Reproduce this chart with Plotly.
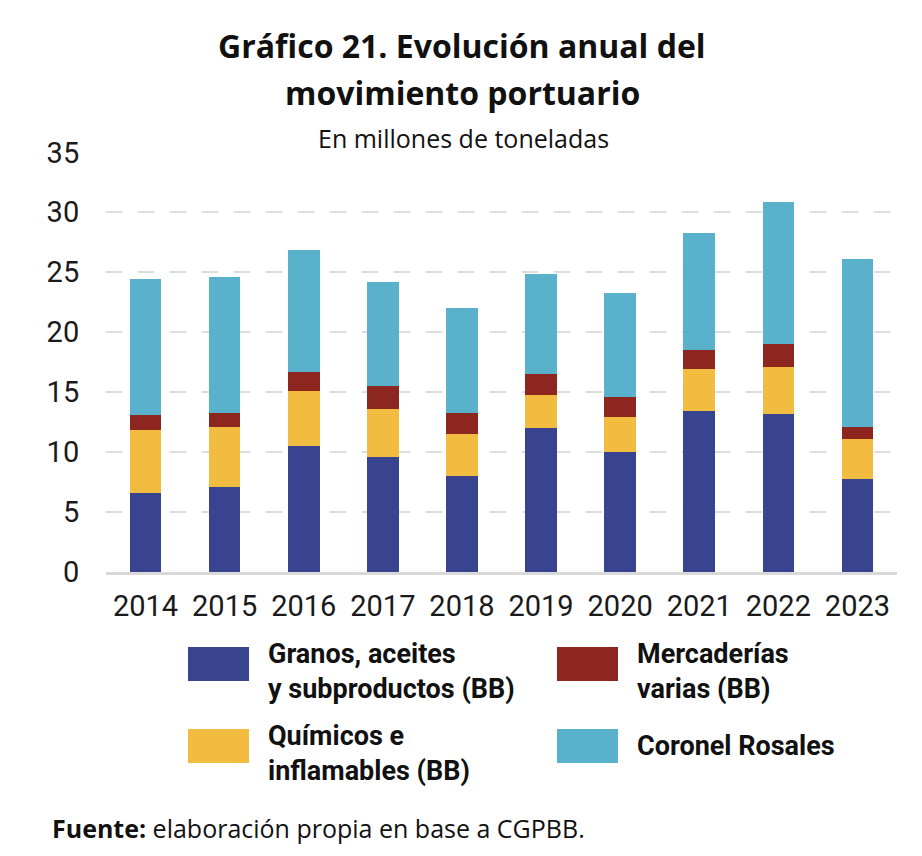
import plotly.graph_objects as go

years = ["2014", "2015", "2016", "2017", "2018", "2019", "2020", "2021", "2022", "2023"]
granos = [6.56, 7.07, 10.51, 9.57, 8.02, 11.98, 10.00, 13.44, 13.17, 7.75]
quimicos = [5.26, 5.02, 4.56, 4.03, 3.52, 2.76, 2.90, 3.52, 3.90, 3.31]
mercaderias = [1.24, 1.19, 1.62, 1.90, 1.74, 1.79, 1.71, 1.55, 1.93, 1.00]
coronel = [11.36, 11.33, 10.17, 8.67, 8.75, 8.32, 8.70, 9.78, 11.87, 14.01]
y_ticks = [0, 5, 10, 15, 20, 25, 30, 35]

series_names = ["Granos, aceites<br>y subproductos (BB)", "Químicos e<br>inflamables (BB)",
                "Mercaderías<br>varias (BB)", "Coronel Rosales"]
series_values = [granos, quimicos, mercaderias, coronel]
series_colors = ["#394491", "#F2BC41", "#8E2620", "#5AB1CB"]

W, H = 922, 856
OFF = 8  # page body margin
L, R, T, B = 106 - OFF, 33, 152 - OFF, 292
PW = W - L - R
PH = H - T - B


def px(sx):
    return (sx - OFF - L) / PW


def py(sy):
    return (H - B + OFF - sy) / PH


fig = go.Figure()
for name, vals, col in zip(series_names, series_values, series_colors):
    fig.add_trace(go.Bar(x=years, y=vals, name=name, marker_color=col,
                         marker_line_width=0, width=0.4, showlegend=False))

TICKFONT = dict(family="Roboto, sans-serif", size=29, color="#1a1a1a")
fig.update_layout(
    width=W, height=H, barmode="stack",
    margin=dict(l=L, r=R, t=T, b=B),
    plot_bgcolor="white", paper_bgcolor="white",
    xaxis=dict(type="category", tickfont=TICKFONT, showgrid=False, showline=True,
               linecolor="#d9d9d9", linewidth=3, ticks="outside", ticklen=6,
               tickcolor="rgba(0,0,0,0)"),
    yaxis=dict(range=[0, 35.03], tickvals=y_ticks, tickfont=TICKFONT, showgrid=True,
               gridcolor="#dddddd", gridwidth=2, griddash="16px,16px",
               zeroline=False, showline=False, ticks="outside", ticklen=20,
               tickcolor="rgba(0,0,0,0)"),
    font=dict(family="Open Sans, sans-serif", color="#111111"),
)

TFONT = dict(family="Open Sans, sans-serif", size=32, color="#111111", weight="bold")
fig.add_annotation(xref="paper", yref="paper", x=px(462), y=py(45), xanchor="center", yanchor="middle",
                   text="Gráfico 21. Evolución anual del", showarrow=False, font=TFONT)
fig.add_annotation(xref="paper", yref="paper", x=px(462), y=py(92), xanchor="center", yanchor="middle",
                   text="movimiento portuario", showarrow=False, font=TFONT)
fig.add_annotation(xref="paper", yref="paper", x=px(463), y=py(138), xanchor="center", yanchor="middle",
                   text="En millones de toneladas", showarrow=False,
                   font=dict(family="Open Sans, sans-serif", size=25, color="#111111"))

# Custom legend (2x2)
legend_order = [0, 2, 1, 3]
pos = [(188, 647), (557, 647), (188, 729), (557, 729)]
for (sx, sy), idx in zip(pos, legend_order):
    fig.add_shape(type="rect", xref="paper", yref="paper",
                  x0=px(sx), x1=px(sx + 61), y0=py(sy), y1=py(sy + 34),
                  fillcolor=series_colors[idx], line_width=0)
    dy = 24 if "<br>" in series_names[idx] else 17
    fig.add_annotation(xref="paper", yref="paper",
                       x=px(sx + 78), y=py(sy + dy),
                       xanchor="left", yanchor="middle", align="left",
                       text=series_names[idx], showarrow=False,
                       font=dict(family="Roboto, sans-serif", size=27, color="#111111", weight="bold"))

# Source
fig.add_annotation(xref="paper", yref="paper", x=px(50), y=py(828),
                   xanchor="left", yanchor="middle",
                   text="<b>Fuente:</b> elaboración propia en base a CGPBB.", showarrow=False,
                   font=dict(family="Open Sans, sans-serif", size=25, color="#111111"))

fig.write_html("out.html")
